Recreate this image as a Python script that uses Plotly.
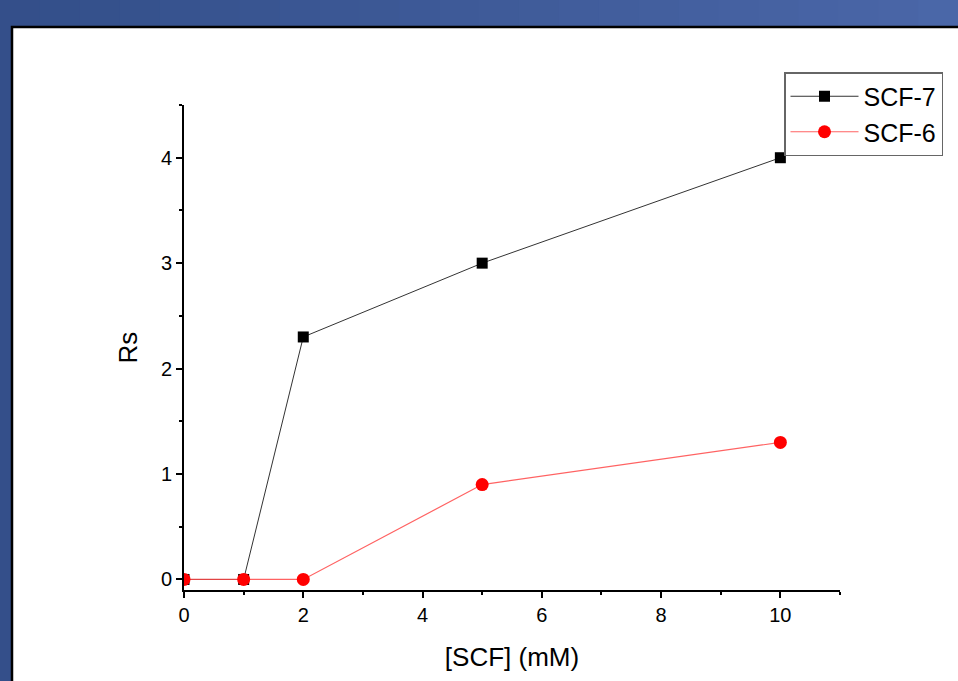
import plotly.graph_objects as go

x_scf7 = [0, 1, 2, 5, 10]
rs_scf7 = [0, 0, 2.3, 3.0, 4.0]
x_scf6 = [0, 1, 2, 5, 10]
rs_scf6 = [0, 0, 0, 0.9, 1.3]
x_ticks = [0, 2, 4, 6, 8, 10]
y_ticks = [0, 1, 2, 3, 4]

W, H = 958, 681
L, R, T, B = 184, 118, 105, 91
pw, ph = W - L - R, H - T - B

def px_x(p):
    return (p - L) / pw

def px_y(p):
    return (H - B - p) / ph

fig = go.Figure()
fig.add_trace(go.Scatter(
    x=x_scf7, y=rs_scf7, name="SCF-7", mode="lines+markers",
    line=dict(color="#333333", width=1),
    marker=dict(symbol="square", size=11, color="black"),
))
fig.add_trace(go.Scatter(
    x=x_scf6, y=rs_scf6, name="SCF-6", mode="lines+markers",
    line=dict(color="rgba(255,70,70,0.85)", width=1.2),
    marker=dict(symbol="circle", size=13, color="#ff0000"),
))

shapes = []
n = 24
c0 = (0x34, 0x4f, 0x8a)
c1 = (0x4a, 0x67, 0xa8)
for i in range(n):
    t = i / (n - 1)
    c = tuple(int(c0[k] + (c1[k] - c0[k]) * t) for k in range(3))
    x0 = i * W / n
    x1 = (i + 1) * W / n + 1
    shapes.append(dict(type="rect", xref="paper", yref="paper", layer="below",
                       x0=px_x(x0), x1=px_x(x1), y0=px_y(H + 5), y1=px_y(-5),
                       fillcolor="rgb(%d,%d,%d)" % c, line=dict(width=0)))
shapes.append(dict(type="rect", xref="paper", yref="paper", layer="below",
                   x0=px_x(12), x1=px_x(W + 20), y0=px_y(H + 20), y1=px_y(27),
                   fillcolor="white", line=dict(color="black", width=2.5)))

fig.update_layout(
    width=W, height=H,
    margin=dict(l=L, r=R, t=T, b=B),
    paper_bgcolor="#3d5896",
    plot_bgcolor="white",
    font=dict(family="Liberation Sans, Arial, sans-serif", color="black", size=20),
    shapes=shapes,
    showlegend=True,
    legend=dict(
        x=px_x(784), y=px_y(72), xanchor="left", yanchor="top",
        bgcolor="white", bordercolor="#666666", borderwidth=1.5,
        font=dict(size=25), itemwidth=68, tracegroupgap=0,
    ),
    xaxis=dict(
        range=[0, 11], tickvals=x_ticks, ticks="outside", ticklen=6, tickwidth=1.5,
        tickcolor="black", showline=True, linecolor="black", linewidth=1.8,
        showgrid=False, zeroline=False,
        minor=dict(dtick=1, tick0=0, ticks="outside", ticklen=3, tickwidth=1.5, tickcolor="black", showgrid=False),
        title=dict(text="[SCF] (mM)", font=dict(size=26), standoff=23),
        tickfont=dict(size=20),
    ),
    yaxis=dict(
        range=[-0.1, 4.5], tickvals=y_ticks, ticks="outside", ticklen=6, tickwidth=1.5,
        tickcolor="black", showline=True, linecolor="black", linewidth=1.8,
        showgrid=False, zeroline=False,
        minor=dict(dtick=0.5, tick0=0, ticks="outside", ticklen=3, tickwidth=1.5, tickcolor="black", showgrid=False),
        title=dict(text="Rs", font=dict(size=26), standoff=16),
        tickfont=dict(size=20),
    ),
)

fig.write_html("out.html", config={"displayModeBar": False},
               post_script="document.body.style.margin='0';document.body.style.padding='0';")
